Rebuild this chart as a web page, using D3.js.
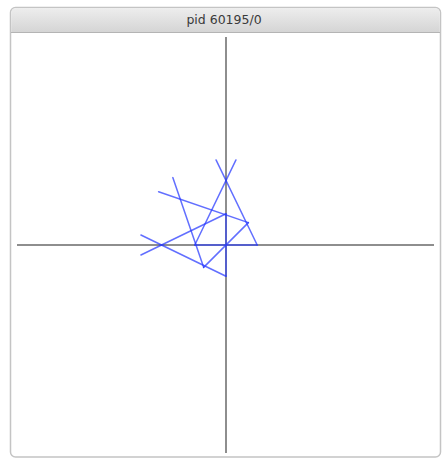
<!DOCTYPE html>
<html>
<head>
<meta charset="utf-8">
<script src="https://cdn.jsdelivr.net/npm/d3@7"></script>
<style>
  html, body { margin: 0; padding: 0; background: #fff; }
  svg { display: block; }
</style>
</head>
<body>
<script>
// window title
const title = "pid 60195/0";

// axis extent in data units
const xDomain = [-200, 200];
const yDomain = [-200, 200];

// three isosceles triangles, base centred on the origin
const apexX = [0, -44, -62];
const apexY = [62, 44, 0];
const baseAX = [-30, 21.5, 0];
const baseAY = [0, 21.5, 30];
const baseBX = [30, -21.5, 0];
const baseBY = [0, -21.5, -30];
// how far the legs run past the apex
const overshoot = 22;

const width = 448;
const height = 459;

const svg = d3
  .select("body")
  .append("svg")
  .attr("width", width)
  .attr("height", height)
  .attr("viewBox", [0, 0, width, height]);

// window chrome
const defs = svg.append("defs");
const grad = defs
  .append("linearGradient")
  .attr("id", "titlebar")
  .attr("x1", 0)
  .attr("y1", 0)
  .attr("x2", 0)
  .attr("y2", 1);
grad.append("stop").attr("offset", 0).attr("stop-color", "#ededed");
grad.append("stop").attr("offset", 1).attr("stop-color", "#d5d5d5");

svg
  .append("rect")
  .attr("x", 10.5)
  .attr("y", 7.5)
  .attr("width", 430)
  .attr("height", 449.5)
  .attr("rx", 5)
  .attr("fill", "#fff")
  .attr("stroke", "#c4c4c4")
  .attr("stroke-width", 1.5);

svg
  .append("path")
  .attr("d", "M11.25,32 V13 Q11.25,8.25 16,8.25 H435 Q439.75,8.25 439.75,13 V32 Z")
  .attr("fill", "url(#titlebar)");

svg
  .append("line")
  .attr("x1", 11)
  .attr("x2", 440)
  .attr("y1", 32.5)
  .attr("y2", 32.5)
  .attr("stroke", "#b4b4b4");

svg
  .append("text")
  .attr("x", 224)
  .attr("y", 24)
  .attr("text-anchor", "middle")
  .attr("font-family", "DejaVu Sans, sans-serif")
  .attr("font-size", 12.5)
  .attr("fill", "#3a3a3a")
  .text(title);

// scales
const x = d3.scaleLinear(xDomain, [18, 434]);
const y = d3.scaleLinear(yDomain, [453, 37]);

// axes through the origin
const axes = svg.append("g").attr("stroke", "#8e8e8e").attr("stroke-width", 2);
axes
  .append("line")
  .attr("x1", x(xDomain[0]) - 1)
  .attr("x2", x(xDomain[1]))
  .attr("y1", y(0))
  .attr("y2", y(0));
axes
  .append("line")
  .attr("x1", x(0))
  .attr("x2", x(0))
  .attr("y1", y(yDomain[1]))
  .attr("y2", y(yDomain[0]));

// segments: base, plus each leg extended past the apex
const segs = [];
d3.range(apexX.length).forEach((i) => {
  const a = [apexX[i], apexY[i]];
  const b1 = [baseAX[i], baseAY[i]];
  const b2 = [baseBX[i], baseBY[i]];
  segs.push([b1, b2]);
  for (const b of [b1, b2]) {
    const dx = a[0] - b[0];
    const dy = a[1] - b[1];
    const len = Math.hypot(dx, dy);
    segs.push([b, [a[0] + (dx / len) * overshoot, a[1] + (dy / len) * overshoot]]);
  }
});

svg
  .append("g")
  .attr("stroke", "#2638ff")
  .attr("stroke-opacity", 0.72)
  .attr("stroke-width", 1.5)
  .attr("stroke-linecap", "round")
  .selectAll("line")
  .data(segs)
  .join("line")
  .attr("x1", (d) => x(d[0][0]))
  .attr("y1", (d) => y(d[0][1]))
  .attr("x2", (d) => x(d[1][0]))
  .attr("y2", (d) => y(d[1][1]));
</script>
</body>
</html>
